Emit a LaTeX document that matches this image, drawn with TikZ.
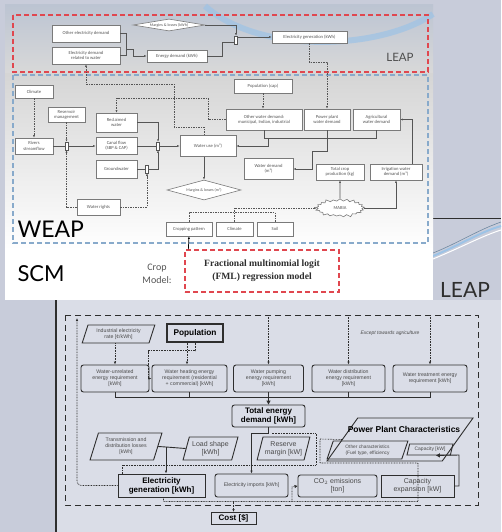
\documentclass[tikz,border=0pt]{standalone}
\usepackage{fontspec}
\setmainfont{Carlito}
\newfontfamily\arialf{Liberation Sans}
\newfontfamily\timesf{Liberation Serif}
\newfontfamily\gillf{Lato}
\usetikzlibrary{shapes.geometric,shapes.symbols,arrows.meta,calc}
\definecolor{slidebg}{HTML}{C8CCDA}
\definecolor{botbg}{HTML}{DADDE7}
\definecolor{leapTop}{HTML}{BCC4D2}
\definecolor{leapBot}{HTML}{D9D9D9}
\definecolor{weapTop}{HTML}{D5D5D5}
\definecolor{reddash}{HTML}{E0474F}
\definecolor{bluedash}{HTML}{88AACB}
\definecolor{boxgray}{HTML}{7A7A7A}
\definecolor{linegray}{HTML}{555555}
\definecolor{txtgray}{HTML}{555555}
\definecolor{dk}{HTML}{2E2E2E}
\definecolor{btxt}{HTML}{4A4A4A}
\definecolor{swb}{HTML}{9DC3E6}
\newcommand\topfs{\fontsize{4.6}{5.3}\selectfont}
\newcommand\dmdfs{\fontsize{4}{4.6}\selectfont}
\newcommand\bsm{\arialf\fontsize{5.2}{5.9}\selectfont}
\newcommand\bmd{\arialf\fontsize{7}{7.8}\selectfont}
\newcommand\bbd{\arialf\bfseries\fontsize{8}{9}\selectfont}
\begin{document}
\begin{tikzpicture}[x=1pt,y=-1pt,
  tb/.style={draw=boxgray, fill=white, line width=0.6pt, font=\topfs, text=txtgray, align=center, inner sep=0.3pt},
  dmd/.style={draw=boxgray, fill=white, line width=0.6pt, diamond, inner sep=0pt},
  dlab/.style={font=\dmdfs, text=txtgray},
  jn/.style={draw=linegray, fill=white, line width=0.5pt, minimum width=3pt, minimum height=8pt, inner sep=0pt},
  ln/.style={draw=linegray, line width=0.6pt},
  dln/.style={draw=linegray, line width=0.6pt, dash pattern=on 1.5pt off 1pt},
  arr/.style={-{Latex[length=2.5pt,width=2pt]}},
  bb/.style={draw=dk, line width=0.9pt, font=\bsm, text=btxt, align=center, inner sep=0.5pt},
  rb/.style={bb, rounded corners=2.5pt},
  pb/.style={bb, trapezium, trapezium left angle=70, trapezium right angle=110, trapezium stretches=true},
  bl/.style={draw=dk, line width=0.9pt},
  dt/.style={draw=dk, line width=0.6pt, dash pattern=on 0.8pt off 0.8pt},
  barr/.style={-{Latex[length=3pt,width=2.5pt]}}
]
\useasboundingbox (0,0) rectangle (501,532);
% slide background
\fill[slidebg] (0,0) rectangle (501,532);
\fill[botbg] (56,300) rectangle (501,532);
\draw[dk, line width=1.6pt] (56,299) -- (56,532);
\draw[dk, line width=0.9pt] (433,218) -- (501,218);
\draw[swb, line width=2pt] (433,256) .. controls (460,245) and (480,232) .. (501,226);
\draw[white, line width=1pt] (433,259) .. controls (462,247) and (482,236) .. (501,230);
\draw[swb!70!black, line width=0.6pt] (433,253) .. controls (458,243) and (478,230) .. (501,222);
\node[font=\gillf\fontsize{21}{21}\selectfont, text=dk] (leapR) at (465,290) {LEAP};
% top panel
\shade[top color=leapTop, bottom color=leapBot] (5,5) rectangle (433,74);
\shade[top color=weapTop, bottom color=white] (5,74) rectangle (433,250);
\fill[white] (5,250) rectangle (433,300);
\draw[swb, line width=6pt, opacity=0.7] (205,6) .. controls (260,55) and (380,50) .. (433,14);
\draw[reddash, line width=1.3pt, dash pattern=on 5pt off 3pt] (13,15) rectangle (428,72);
\draw[bluedash, line width=1.1pt, dash pattern=on 5pt off 3pt] (13,75) rectangle (428,243);
% LEAP part
\node[tb, minimum width=68pt, minimum height=17pt] (oed) at (86,33.5) {Other electricity demand};
\node[tb, minimum width=68pt, minimum height=17pt] (edw) at (86,55.5) {Electricity demand\\related to water};
\node[dmd, minimum width=72pt, minimum height=12pt, label={[dlab]center:Margins \& losses (kWh)}] (mlk) at (169,25) {};
\node[tb, minimum width=60pt, minimum height=12pt] (edk) at (177,56) {Energy demand (kWh)};
\node[tb, minimum width=75pt, minimum height=12pt] (egk) at (309.5,37) {Electricity generation (kWh)};
\node[jn] (j4) at (236,40) {};
\node[font=\gillf\fontsize{11.5}{11.5}\selectfont, text=dk!85] (leapT) at (400,57.5) {LEAP};
\draw[ln] (oed.east) -- (126,33.5) -- (126,55.5) -- (edw.east);
\draw[ln,arr] (126,49) -- (133,49) |- (edk.west);
\draw[ln,arr] (mlk.east) -| (j4.north);
\draw[ln] (edk.east) -| (222,42) -- (234.5,42);
\draw[ln,arr] (j4.east |- egk.west) -- (egk.west);
% WEAP part
\node[tb, minimum width=38pt, minimum height=13pt] (clim1) at (34,91.5) {Climate};
\node[tb, minimum width=38pt, minimum height=16pt] (rsf) at (34,146) {Rivers\\streamflow};
\node[tb, minimum width=37pt, minimum height=15pt] (rmg) at (66.5,114.5) {Reservoir\\management};
\node[tb, minimum width=41pt, minimum height=19pt] (rcw) at (116.5,122.5) {Reclaimed\\water};
\node[tb, minimum width=41pt, minimum height=17pt] (cfl) at (116.5,146) {Canal flow\\(SBP \& CAP)};
\node[tb, minimum width=41pt, minimum height=18pt] (gw) at (116.5,169) {Groundwater};
\node[tb, minimum width=56pt, minimum height=21pt] (wu) at (208,146) {Water use (m³)};
\node[dmd, minimum width=74pt, minimum height=20pt, label={[dlab]center:Margins \& losses (m³)}] (mlm) at (204,190) {};
\node[tb, minimum width=43pt, minimum height=16pt] (wr) at (98.5,207) {Water rights};
\node[tb, minimum width=46pt, minimum height=14pt] (cp) at (189,229) {Cropping pattern};
\node[tb, minimum width=37pt, minimum height=14pt] (clim2) at (234.5,229) {Climate};
\node[tb, minimum width=36pt, minimum height=14pt] (soil) at (275,229) {Soil};
\node[tb, starburst, starburst points=21, starburst point height=3pt, minimum width=50pt, minimum height=20pt] (mabia) at (340,208) {MABIA};
\node[tb, minimum width=58pt, minimum height=14pt] (pop) at (263,86) {Population (cap)};
\node[tb, minimum width=76pt, minimum height=21pt] (owd) at (264,119.5) {Other water demand:\\municipal, Indian, industrial};
\node[tb, minimum width=46pt, minimum height=21pt] (ppw) at (327,119.5) {Power plant\\water demand};
\node[tb, minimum width=47pt, minimum height=21pt] (agw) at (376.5,119.5) {Agricultural\\water demand};
\node[tb, minimum width=49pt, minimum height=21pt] (wd) at (268.5,169) {Water demand\\(m³)};
\node[tb, minimum width=48pt, minimum height=16pt] (tcp) at (340,172) {Total crop\\production (kg)};
\node[tb, minimum width=52pt, minimum height=16pt] (iwd) at (396,172) {Irrigation water\\demand (m³)};
% WEAP connectors
\draw[dln,arr] (egk.south) -- ++(0,19) -| (ppw.north);
\draw[dln,arr] ($(wu.north)+(-4,0)$) |- (174,127) |- (86,84) -- (edw.south);
\draw[dln,arr] (owd.west) -- (208,119.5) |- (116.5,98) -- (rcw.north);
\draw[dln,arr] (pop.south) -- (pop.south |- owd.north);
\draw[dln,arr] (clim1.south) -- (rsf.north);
\draw[ln,arr] (rsf.east) -- (cfl.west);
\node[jn] (j1) at (66.5,146) {};
\draw[dln,arr] (rmg.south) -- (j1.north);
\node[jn] (j2) at (158,146) {};
\node[jn] (j3) at (147,169) {};
\draw[dln,arr] (wr.west) -| (j1.south);
\draw[dln,arr] (wr.east) -| (j3.south);
\draw[ln,arr] (rcw.east) -| (j2.north);
\draw[ln] (cfl.east) -- (j2.west);
\draw[ln,arr] (j2.east) -- (wu.west);
\draw[ln] (gw.east) -- (j3.west);
\draw[ln,arr] (j3.east) -| (j2.south);
\draw[ln,arr] (204,156.5) -- (mlm.north);
\draw[ln] (owd.south) -- ++(0,8) -| (agw.south);
\draw[ln,arr] (ppw.south) -- (327,151) -- (312,151) |- (wd.east);
\draw[ln,arr] (268,138) -- (268,146) -- (wu.east);
\draw[ln,arr] (412,164) |- (agw.east);
\draw[ln,arr] (mabia.north) -- (tcp.south);
\draw[ln,arr] (mabia.east) -| (iwd.south);
\draw[dln,arr] (clim2.north) |- (mabia.west);
\draw[dln] (cp.north) -- ++(0,-9) -| (soil.north);
% WEAP / SCM labels and crop model
\node[font=\gillf\fontsize{23}{23}\selectfont, text=black, anchor=west] (weapL) at (14,229) {WEAP};
\node[font=\gillf\fontsize{22}{22}\selectfont, text=black, anchor=west] (scmL) at (14,274) {SCM};
\node[font=\fontsize{10}{13}\selectfont, text=txtgray, align=center] (cropL) at (157,274) {Crop\\Model:};
\node[draw=reddash, line width=1.3pt, dash pattern=on 5pt off 3pt, minimum width=154pt, minimum height=42pt, font=\timesf\bfseries\fontsize{9.6}{13}\selectfont, text=dk, align=center] (cmb) at (262,271) {Fractional multinomial logit\\(FML) regression model};
\draw[draw=black, line width=0.7pt, arr] ($(cmb.north west)+(4,0)$) -- (cp.south);
% ===== bottom diagram =====
\draw[dk, line width=1pt, dash pattern=on 6pt off 4pt] (65,315) rectangle (478,505);
\node[font=\arialf\itshape\fontsize{5}{6}\selectfont, text=btxt] (exc) at (390,333) {Except towards agriculture};
\node[pb, minimum width=73pt, minimum height=18pt] (ier) at (118.5,334) {Industrial electricity\\rate [¢/kWh]};
\node[bb, line width=1.2pt, minimum width=56pt, minimum height=18pt, font=\arialf\bfseries\fontsize{8.3}{9}\selectfont, text=black] (bpop) at (195,333) {Population};
\node[rb, minimum width=68pt, minimum height=27pt] (wur) at (115,378.5) {Water-unrelated\\energy requirement\\{[}kWh]};
\node[rb, minimum width=75pt, minimum height=27pt] (whr) at (189.5,378.5) {Water heating energy\\requirement (residential\\+ commercial) [kWh]};
\node[rb, minimum width=70pt, minimum height=27pt] (wpr) at (268.5,378.5) {Water pumping\\energy requirement\\{[}kWh]};
\node[rb, minimum width=73pt, minimum height=27pt] (wdr) at (348.5,378.5) {Water distribution\\energy requirement\\{[}kWh]};
\node[rb, minimum width=74pt, minimum height=27pt] (wtr) at (430,378.5) {Water treatment energy\\requirement [kWh]};
\node[rb, minimum width=73pt, minimum height=22pt, font=\bbd, text=black] (ted) at (268.5,416) {Total energy\\demand [kWh]};
\node[pb, minimum width=72pt, minimum height=27pt] (tdl) at (126,446.5) {Transmission and\\distribution losses\\{[}kWh]};
\node[pb, minimum width=55pt, minimum height=23pt, font=\bmd] (lsh) at (210.5,448.5) {Load shape\\{[}kWh]};
\node[pb, minimum width=53pt, minimum height=23pt, font=\bmd] (rmk) at (283.5,448.5) {Reserve\\margin [kW]};
\node[pb, minimum width=146pt, minimum height=43pt] (ppc) at (400,439.5) {};
\node[font=\arialf\bfseries\fontsize{8.5}{9}\selectfont, text=black] (ppct) at (404,429) {Power Plant Characteristics};
\node[pb, minimum width=81pt, minimum height=18pt, font=\arialf\fontsize{4.8}{5.6}\selectfont] (ooc) at (367.5,450) {Other characteristics\\(Fuel type, efficiency};
\node[pb, minimum width=46pt, minimum height=11pt, font=\arialf\fontsize{5}{5.6}\selectfont] (cap) at (430,449.5) {Capacity [kW]};
\node[bb, minimum width=87pt, minimum height=23pt, font=\bbd, text=black] (egn) at (161.5,485.5) {Electricity\\generation [kWh]};
\node[rb, minimum width=73pt, minimum height=23pt] (eim) at (251.5,485.5) {Electricity imports [kWh]};
\node[rb, minimum width=79pt, minimum height=22pt, font=\bmd] (co2) at (337.5,486) {CO$_2$ emissions\\{[}ton]};
\node[bb, minimum width=73pt, minimum height=22pt, font=\bmd] (cex) at (417.5,486) {Capacity\\expansion [kW]};
\node[bb, minimum width=45pt, minimum height=12pt, font=\bbd, text=black] (cost) at (233.5,518.5) {Cost [\$]};
% bottom connectors
\coordinate (t1) at (268.5,315);
\coordinate (t2) at (348.5,315);
\coordinate (t3) at (430,315);
\draw[dt,barr] (t1) -- (wpr.north);
\draw[dt,barr] (t2) -- (wdr.north);
\draw[dt,barr] (t3) -- (wtr.north);
\draw[dt,barr] (ier.south -| wur.north) -- (wur.north);
\draw[dt,barr] ($(bpop.south)+(-8,0)$) -- ($(whr.north)+(-2.5,0)$);
\draw[dt,barr] (bpop.south) -- ++(0,8) -| (148,378.5) -- (whr.west);
\draw[bl] (wur.south) -- ++(0,5) -| (wtr.south);
\draw[bl] (whr.south) -- ++(0,5);
\draw[bl] (wdr.south) -- ++(0,5);
\draw[bl,-{Triangle[length=4pt,width=4pt]}] (wpr.south) -- (ted.north);
\draw[bl,barr] (ted.south) -- ++(0,6) -| (eim.north);
\coordinate (jx) at (166,447);
\draw[bl] (tdl.east) -- (jx);
\draw[bl] (lsh.west) -- (jx);
\draw[bl,barr] (jx) -- (egn.north -| jx);
\coordinate (fbtop) at (77,318);
\draw[dt,barr,rounded corners=4pt] (egn.west) -| (fbtop);
\draw[dt] ($(egn.south)+(2,0)$) -- ++(0,4) -- (418,501.5) -- (418,463) -- (320,463) -- (320,439) -- (ppc.west);
\draw[dt] (122,474) -- (122,465) -- (316,465) -- (316,433.5) -- (272,433.5);
\draw[dt,barr] (233.5,501.5) -- (cost.north);
\draw[dt,-{Triangle[length=3pt,width=3pt]}] (292,501.5) -- (292,487) -- (co2.west);
\draw[bl,-{Triangle[length=4pt,width=4pt]}] (cex.east) -| (459,455) -- (cap.south east);
\end{tikzpicture}
\end{document}
